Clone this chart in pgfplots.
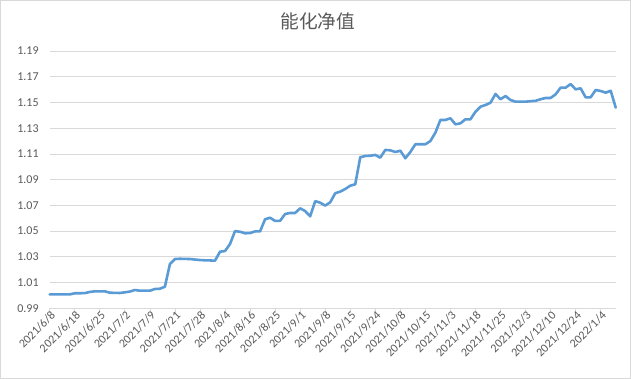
\documentclass[border=0pt]{standalone}
\usepackage{pgfplots}
\pgfplotsset{compat=1.18}
\usepackage{fontspec}
\setmainfont{Carlito}
\newfontfamily\cjk{Noto Sans CJK SC}
\definecolor{linec}{HTML}{5B9BD5}
\definecolor{gridc}{HTML}{D9D9D9}
\definecolor{textc}{HTML}{595959}
\pgfplotstableread{
x y
0 1.0008
1 1.0008
2 1.0008
3 1.0008
4 1.0008
5 1.0017
6 1.0017
7 1.0018
8 1.0027
9 1.0032
10 1.0032
11 1.0032
12 1.0021
13 1.0020
14 1.0019
15 1.0024
16 1.0030
17 1.0042
18 1.0037
19 1.0037
20 1.0037
21 1.0050
22 1.0052
23 1.0068
24 1.0244
25 1.0283
26 1.0285
27 1.0284
28 1.0283
29 1.0279
30 1.0275
31 1.0273
32 1.0272
33 1.0270
34 1.0340
35 1.0345
36 1.0400
37 1.0500
38 1.0495
39 1.0483
40 1.0485
41 1.0498
42 1.0498
43 1.0592
44 1.0604
45 1.0579
46 1.0580
47 1.0633
48 1.0641
49 1.0641
50 1.0677
51 1.0656
52 1.0615
53 1.0733
54 1.0721
55 1.0698
56 1.0724
57 1.0794
58 1.0807
59 1.0827
60 1.0853
61 1.0864
62 1.1074
63 1.1084
64 1.1086
65 1.1092
66 1.1071
67 1.1131
68 1.1128
69 1.1115
70 1.1125
71 1.1066
72 1.1115
73 1.1175
74 1.1175
75 1.1175
76 1.1200
77 1.1265
78 1.1364
79 1.1364
80 1.1377
81 1.1330
82 1.1338
83 1.1369
84 1.1369
85 1.1428
86 1.1467
87 1.1480
88 1.1498
89 1.1566
90 1.1525
91 1.1550
92 1.1519
93 1.1506
94 1.1506
95 1.1506
96 1.1510
97 1.1513
98 1.1525
99 1.1535
100 1.1535
101 1.1563
102 1.1615
103 1.1615
104 1.1643
105 1.1602
106 1.1610
107 1.1540
108 1.1540
109 1.1597
110 1.1589
111 1.1576
112 1.1591
113 1.1460
}\navtable
\begin{document}
\begin{tikzpicture}[x=1pt,y=1pt]
\useasboundingbox (0,0) rectangle (631,379);
\draw[gridc, line width=0.75pt] (0.5,0.5) rectangle (630.5,378.5);
\node[text=textc, font=\cjk\fontsize{18.7}{20}\selectfont] at (317.7,357.3) {能化净值};
\begin{axis}[
  at={(49.7pt,70.7pt)}, anchor=south west,
  scale only axis, width=566pt, height=257.3pt,
  xmin=0, xmax=113, ymin=0.99, ymax=1.19,
  axis x line*=bottom, axis y line*=left,
  x axis line style={gridc, line width=0.75pt, -},
  y axis line style={draw=none},
  ytick={0.99,1.01,1.03,1.05,1.07,1.09,1.11,1.13,1.15,1.17,1.19},
  xtick={0,5,...,110},
  xticklabels={2021/6/8,2021/6/18,2021/6/25,2021/7/2,2021/7/9,2021/7/21,2021/7/28,2021/8/4,2021/8/16,2021/8/25,2021/9/1,2021/9/8,2021/9/15,2021/9/24,2021/10/8,2021/10/15,2021/11/3,2021/11/18,2021/11/25,2021/12/3,2021/12/10,2021/12/24,2022/1/4},
  ymajorgrids, grid style={gridc, line width=0.75pt},
  tick align=outside, major tick length=4.5pt,
  xtick style={gridc, line width=0.75pt},
  ytick style={draw=none},
  tick label style={text=textc, font=\fontsize{12}{12}\selectfont},
  /pgf/number format/assume math mode=true,
  yticklabel style={/pgf/number format/fixed, /pgf/number format/fixed zerofill, /pgf/number format/precision=2, xshift=-3pt},
  xticklabel style={rotate=45, anchor=east, inner sep=1pt, xshift=3pt, yshift=-3pt},
  clip=false,
]
\addplot[linec, line width=2.6pt, line join=round, line cap=round] table[x=x,y=y] {\navtable};
\end{axis}
\end{tikzpicture}
\end{document}
